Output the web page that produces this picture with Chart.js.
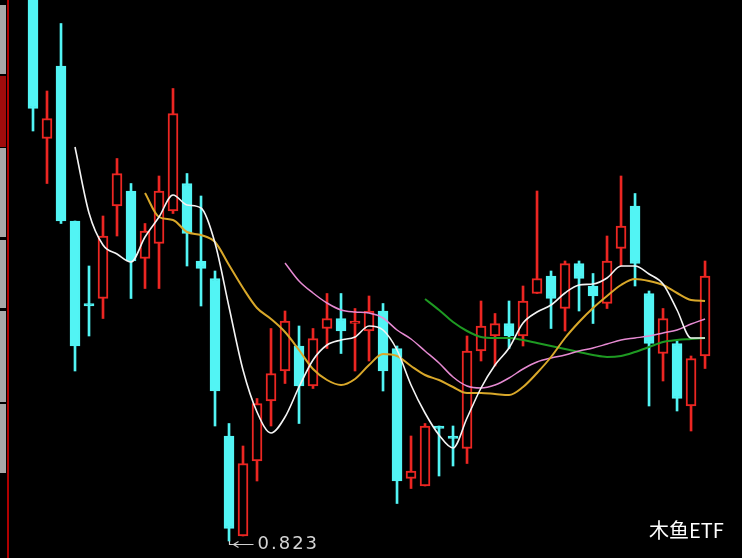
<!DOCTYPE html>
<html><head><meta charset="utf-8">
<script src="https://cdn.jsdelivr.net/npm/chart.js@4.4.1/dist/chart.umd.min.js"></script>
<style>
html,body{margin:0;padding:0;background:#000;width:742px;height:558px;overflow:hidden}
#wrap{position:relative;width:742px;height:558px}
canvas{display:block}
#wm{position:absolute;left:649px;top:517px;color:#fff;font:20px "Noto Sans CJK SC",sans-serif;line-height:26px;white-space:nowrap}
</style></head><body>
<div id="wrap"><canvas id="c" width="742" height="558"></canvas><div id="wm">木鱼ETF</div></div>
<script>
// daily candles (index order)
const openP  = [1.041,0.984,1.013,0.951,0.918,0.920,0.957,0.963,0.936,0.942,0.955,0.966,0.935,0.928,0.865,0.825,0.855,0.879,0.891,0.901,0.885,0.908,0.912,0.910,0.907,0.915,0.900,0.848,0.845,0.869,0.865,0.860,0.899,0.905,0.910,0.905,0.922,0.929,0.916,0.934,0.925,0.918,0.940,0.957,0.922,0.898,0.902,0.877,0.897];
const highP  = [1.047,1.003,1.030,0.951,0.933,0.953,0.976,0.966,0.950,0.969,1.004,0.970,0.961,0.931,0.870,0.861,0.880,0.908,0.915,0.909,0.908,0.922,0.922,0.916,0.921,0.918,0.901,0.865,0.870,0.869,0.869,0.905,0.919,0.914,0.919,0.925,0.963,0.931,0.935,0.935,0.930,0.945,0.969,0.962,0.923,0.916,0.903,0.897,0.935];
const lowP   = [0.987,0.966,0.950,0.891,0.905,0.912,0.945,0.920,0.924,0.924,0.954,0.933,0.917,0.869,0.823,0.825,0.847,0.869,0.886,0.870,0.884,0.900,0.898,0.891,0.895,0.883,0.838,0.844,0.845,0.849,0.853,0.854,0.895,0.893,0.900,0.901,0.922,0.908,0.907,0.915,0.910,0.916,0.933,0.925,0.877,0.887,0.875,0.867,0.892];
const closeP = [0.996,0.992,0.951,0.901,0.917,0.945,0.970,0.935,0.947,0.963,0.994,0.946,0.932,0.883,0.828,0.854,0.878,0.890,0.911,0.885,0.904,0.912,0.907,0.911,0.915,0.891,0.847,0.851,0.869,0.868,0.864,0.899,0.909,0.910,0.905,0.919,0.928,0.920,0.934,0.928,0.921,0.935,0.949,0.934,0.902,0.912,0.880,0.896,0.929];
// moving averages
const ma5  = [null,null,null,0.9806,0.9542,0.9414,0.9378,0.9346,0.9446,0.9526,0.9614,0.9574,0.9562,0.9422,0.9166,0.8914,0.8746,0.8662,0.8726,0.8846,0.8954,0.9014,0.9034,0.9046,0.9090,0.9074,0.8994,0.8854,0.8742,0.8654,0.8602,0.8722,0.8842,0.8934,0.9002,0.9102,0.9146,0.9174,0.9222,0.9254,0.9258,0.9282,0.9330,0.9330,0.9298,0.9258,0.9154,0.9042,0.9042];
const ma10 = [null,null,null,null,null,null,null,null,0.9622,0.9526,0.9514,0.9466,0.9454,0.9426,0.9334,0.9242,0.9162,0.9118,0.9066,0.8994,0.8918,0.8874,0.8854,0.8878,0.8934,0.8978,0.8970,0.8930,0.8894,0.8874,0.8846,0.8822,0.8822,0.8818,0.8814,0.8846,0.8902,0.8966,0.9042,0.9106,0.9162,0.9210,0.9254,0.9278,0.9270,0.9254,0.9222,0.9194,0.9190];
const ma20 = [null,null,null,null,null,null,null,null,null,null,null,null,null,null,null,null,null,null,0.9342,0.9270,0.9222,0.9182,0.9154,0.9146,0.9142,0.9122,0.9074,0.9038,0.8990,0.8942,0.8886,0.8850,0.8842,0.8854,0.8882,0.8918,0.8946,0.8962,0.8974,0.8990,0.9002,0.9018,0.9034,0.9042,0.9050,0.9062,0.9074,0.9098,0.9118];
const ma30 = [null,null,null,null,null,null,null,null,null,null,null,null,null,null,null,null,null,null,null,null,null,null,null,null,null,null,null,null,0.9198,0.9154,0.9106,0.9070,0.9046,0.9042,0.9042,0.9034,0.9022,0.9010,0.8998,0.8986,0.8974,0.8966,0.8970,0.8986,0.9006,0.9026,0.9034,0.9038,0.9042];
const days = openP.map((_, i) => i);
const lowLabel = '0.823';

const UP = '#ec2622', DOWN = '#52f4f4';
const isUp = days.map(i => closeP[i] >= openP[i]);
const bodyData = days.map(i => ({x: i, y: [openP[i], closeP[i]]}));
const wickData = days.map(i => ({x: i, y: [lowP[i], highP[i]]}));
const lineData = arr => days.map(i => ({x: i, y: arr[i]}));

const deco = {
  id: 'deco',
  beforeDraw(chart) {
    const ctx = chart.ctx;
    ctx.save();
    ctx.fillStyle = '#000';
    ctx.fillRect(0, 0, chart.width, chart.height);
    const blocks = [[5,74,'#a8a8a8'],[76,147,'#a00c0c'],[148,237,'#a8a8a8'],[240,308,'#a8a8a8'],[311,402,'#a8a8a8'],[404,473,'#a8a8a8']];
    blocks.forEach(b => { ctx.fillStyle = b[2]; ctx.fillRect(0, b[0], 6, b[1]-b[0]); });
    ctx.fillStyle = '#b00000';
    ctx.fillRect(7, 0, 2, chart.height);
    ctx.restore();
  },
  afterDatasetsDraw(chart) {
    const ctx = chart.ctx, xs = chart.scales.x, ys = chart.scales.y;
    let mi = 0;
    lowP.forEach((v, i) => { if (v < lowP[mi]) mi = i; });
    const x = Math.round(xs.getPixelForValue(mi)) + 0.5;
    const y0 = ys.getPixelForValue(lowP[mi]);
    const ty = Math.round(y0 + 3) + 0.5;
    ctx.save();
    ctx.strokeStyle = '#d0d0d0';
    ctx.lineWidth = 1.2;
    ctx.beginPath();
    ctx.moveTo(x, y0); ctx.lineTo(x, ty); ctx.lineTo(x + 24, ty);
    ctx.moveTo(x + 4, ty); ctx.lineTo(x + 9, ty - 3);
    ctx.moveTo(x + 4, ty); ctx.lineTo(x + 9, ty + 3);
    ctx.stroke();
    ctx.fillStyle = '#d4d4d4';
    ctx.font = '18px "DejaVu Sans", sans-serif';
    ctx.letterSpacing = '2px';
    ctx.textBaseline = 'middle';
    ctx.fillText(lowLabel, x + 28, ty);
    ctx.restore();
  }
};

new Chart(document.getElementById('c'), {
  type: 'bar',
  data: {
    datasets: [
      {type: 'line', data: lineData(ma5), borderColor: '#f4f4f4', borderWidth: 1.6, pointRadius: 0, cubicInterpolationMode: 'monotone', order: 0},
      {type: 'line', data: lineData(ma10), borderColor: '#d9a82a', borderWidth: 2, pointRadius: 0, cubicInterpolationMode: 'monotone', order: 0},
      {type: 'line', data: lineData(ma20), borderColor: '#e68ad2', borderWidth: 1.5, pointRadius: 0, cubicInterpolationMode: 'monotone', order: 0},
      {type: 'line', data: lineData(ma30), borderColor: '#1e9a22', borderWidth: 2, pointRadius: 0, cubicInterpolationMode: 'monotone', order: 0},
      {data: bodyData, barThickness: 10, grouped: false, order: 1,
       backgroundColor: days.map(i => isUp[i] ? '#000' : DOWN),
       borderColor: days.map(i => isUp[i] ? UP : DOWN),
       borderWidth: 2, borderSkipped: false},
      {data: wickData, barThickness: 2, grouped: false, order: 2,
       backgroundColor: days.map(i => isUp[i] ? UP : DOWN), borderWidth: 0}
    ]
  },
  options: {
    responsive: false, animation: false, devicePixelRatio: 1,
    layout: {padding: {left: 26, right: 0, top: 0, bottom: 0}},
    plugins: {legend: {display: false}, tooltip: {enabled: false}},
    scales: {
      x: {type: 'linear', min: -0.5, max: 50.64, offset: false, display: false, grid: {display: false}},
      y: {min: 0.8162, max: 1.0394, display: false, grid: {display: false}}
    }
  },
  plugins: [deco]
});
</script>
</body></html>
